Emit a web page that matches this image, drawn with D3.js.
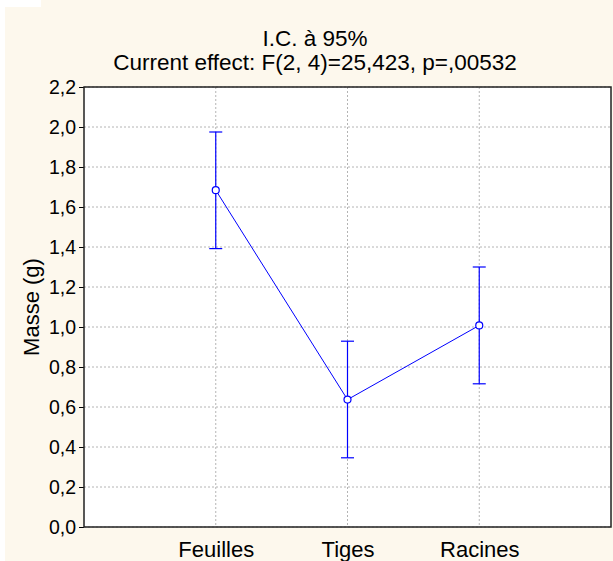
<!DOCTYPE html>
<html>
<head>
<meta charset="utf-8">
<script src="https://cdn.jsdelivr.net/npm/d3@7"></script>
<style>
  body { margin: 0; background: #ffffff; }
  text { font-family: "Liberation Sans", Arial, sans-serif; fill: #000; }
</style>
</head>
<body>
<div id="chart"></div>
<script>
// Data
const categories = ["Feuilles", "Tiges", "Racines"];
const means = [1.684, 0.637, 1.008];
const lowerCI = [1.392, 0.346, 0.716];
const upperCI = [1.975, 0.929, 1.300];
const yTicks = [0, 0.2, 0.4, 0.6, 0.8, 1.0, 1.2, 1.4, 1.6, 1.8, 2.0, 2.2];
const titleLines = ["I.C. à 95%", "Current effect: F(2, 4)=25,423, p=,00532"];
const yLabel = "Masse (g)";

const W = 613, H = 561;
const margin = {top: 87, right: 2, bottom: 34, left: 84};
const width = W - margin.left - margin.right;
const height = H - margin.top - margin.bottom;

const svg = d3.select("#chart").append("svg")
    .attr("width", W)
    .attr("height", H);

// page background
svg.append("rect").attr("width", W).attr("height", H).attr("fill", "#fdf8ed");
svg.append("rect").attr("x", 0).attr("y", 0).attr("width", 5).attr("height", H).attr("fill", "#fff");
svg.append("rect").attr("x", 0).attr("y", 0).attr("width", 41).attr("height", 7).attr("fill", "#fff");

const g = svg.append("g")
    .attr("transform", "translate(" + margin.left + "," + margin.top + ")");

// scales: 5 slots, categories in the middle three
const x = d3.scalePoint()
    .domain(categories)
    .range([0, width])
    .padding(1);

const y = d3.scaleLinear()
    .domain([0, 2.2])
    .range([height, 0]);

const fmt = d => d3.format(".1f")(d).replace(".", ",");

g.append("rect")
    .attr("width", width)
    .attr("height", height)
    .attr("fill", "#fff");

// gridlines
g.selectAll(".hgrid")
    .data(yTicks)
    .enter().append("line")
    .attr("class", "hgrid")
    .attr("x1", 0).attr("x2", width)
    .attr("y1", d => y(d)).attr("y2", d => y(d))
    .attr("stroke", "#b4b4b4")
    .attr("stroke-dasharray", "2,2");

g.selectAll(".vgrid")
    .data(categories)
    .enter().append("line")
    .attr("class", "vgrid")
    .attr("x1", d => x(d)).attr("x2", d => x(d))
    .attr("y1", 0).attr("y2", height)
    .attr("stroke", "#b4b4b4")
    .attr("stroke-dasharray", "2,2");

// axes
const yAxis = d3.axisLeft(y)
    .tickValues(yTicks)
    .tickFormat(fmt)
    .tickSize(5)
    .tickPadding(3);

g.append("g")
    .attr("class", "y-axis")
    .call(yAxis)
    .call(a => a.select(".domain").remove())
    .call(a => a.selectAll("line").attr("stroke", "#000"))
    .call(a => a.selectAll("text")
        .attr("font-size", "19.5px")
        .style("font-family", "'Liberation Sans', Arial, sans-serif"));

const xAxis = d3.axisBottom(x)
    .tickSize(0)
    .tickPadding(14);

g.append("g")
    .attr("class", "x-axis")
    .attr("transform", "translate(0," + height + ")")
    .call(xAxis)
    .call(a => a.select(".domain").remove())
    .call(a => a.selectAll("text")
        .attr("font-size", "22px")
        .style("font-family", "'Liberation Sans', Arial, sans-serif"));

// plot frame
g.append("rect")
    .attr("width", width)
    .attr("height", height)
    .attr("fill", "none")
    .attr("stroke", "#222")
    .attr("stroke-width", 1.5);

// series
const pts = categories.map((c, i) => ({c: c, m: means[i], lo: lowerCI[i], hi: upperCI[i]}));
const blue = "#0000ff";
const cap = 6.5;

g.append("path")
    .datum(pts)
    .attr("fill", "none")
    .attr("stroke", blue)
    .attr("stroke-width", 1)
    .attr("d", d3.line().x(d => x(d.c)).y(d => y(d.m)));

const eb = g.selectAll(".err")
    .data(pts)
    .enter().append("g")
    .attr("class", "err")
    .attr("stroke", blue)
    .attr("stroke-width", 1.2);

eb.append("line")
    .attr("x1", d => x(d.c)).attr("x2", d => x(d.c))
    .attr("y1", d => y(d.lo)).attr("y2", d => y(d.hi));
eb.append("line")
    .attr("x1", d => x(d.c) - cap).attr("x2", d => x(d.c) + cap)
    .attr("y1", d => y(d.hi)).attr("y2", d => y(d.hi));
eb.append("line")
    .attr("x1", d => x(d.c) - cap).attr("x2", d => x(d.c) + cap)
    .attr("y1", d => y(d.lo)).attr("y2", d => y(d.lo));

g.selectAll(".pt")
    .data(pts)
    .enter().append("circle")
    .attr("class", "pt")
    .attr("cx", d => x(d.c))
    .attr("cy", d => y(d.m))
    .attr("r", 3.5)
    .attr("fill", "#fff")
    .attr("stroke", blue)
    .attr("stroke-width", 1.2);

// titles
svg.selectAll(".title")
    .data(titleLines)
    .enter().append("text")
    .attr("class", "title")
    .attr("x", 315)
    .attr("y", (d, i) => 46 + i * 23.5)
    .attr("text-anchor", "middle")
    .attr("font-size", "22.5px")
    .text(d => d);

svg.append("text")
    .attr("transform", "translate(39," + (margin.top + height / 2) + ") rotate(-90)")
    .attr("text-anchor", "middle")
    .attr("font-size", "22px")
    .text(yLabel);
</script>
</body>
</html>
